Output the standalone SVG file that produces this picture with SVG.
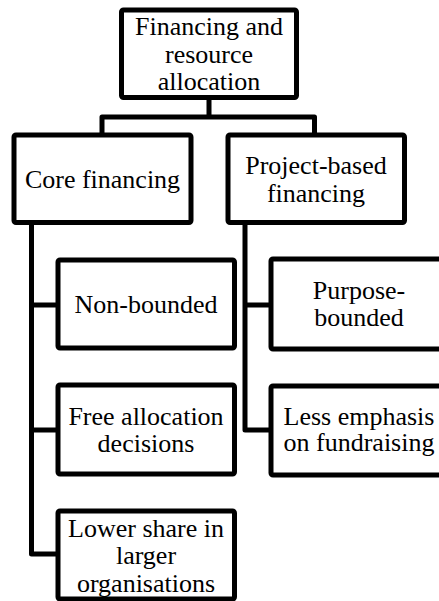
<svg xmlns="http://www.w3.org/2000/svg" width="439" height="601" viewBox="0 0 439 601">
<style>
.box{fill:#fff;stroke:#000;stroke-width:5;stroke-linejoin:round}
.conn{fill:none;stroke:#000;stroke-width:5;stroke-linejoin:round}
text{font-family:"Times New Roman","Liberation Serif","Nimbus Roman","DejaVu Serif",serif;font-size:26px;fill:#000;text-anchor:middle}
</style>
<rect width="439" height="601" fill="#fff"/>
<g id="connectors">
<path class="conn" d="M209,97.5 V117 M102,135 V117 H314.5 V135"/>
<path class="conn" d="M31.5,222.5 V554 H58 M31.5,305 H58 M31.5,430 H58"/>
<path class="conn" d="M245,222.5 V430 H271 M245,305 H271"/>
</g>
<g id="root">
<rect class="box" x="121.5" y="10" width="175" height="87.5" rx="2"/>
<text x="209" y="35">Financing and</text>
<text x="209" y="63">resource</text>
<text x="209" y="90">allocation</text>
</g>
<g id="core">
<rect class="box" x="14" y="135" width="177" height="87.5" rx="2"/>
<text x="102.5" y="188">Core financing</text>
</g>
<g id="project">
<rect class="box" x="228" y="135" width="176.5" height="87.5" rx="2"/>
<text x="316" y="174">Project-based</text>
<text x="316" y="201.5">financing</text>
</g>
<g id="nonbounded">
<rect class="box" x="58" y="260" width="176.5" height="88" rx="2"/>
<text x="146" y="312.5">Non-bounded</text>
</g>
<g id="free">
<rect class="box" x="58" y="385" width="176.5" height="89" rx="2"/>
<text x="146" y="425">Free allocation</text>
<text x="146" y="451.5">decisions</text>
</g>
<g id="lower">
<rect class="box" x="58" y="511" width="176.5" height="88" rx="2"/>
<text x="146" y="536.5">Lower share in</text>
<text x="146" y="564">larger</text>
<text x="146" y="591.5">organisations</text>
</g>
<g id="purpose">
<rect class="box" x="271" y="259" width="177" height="90" rx="2"/>
<text x="359" y="299">Purpose-</text>
<text x="359" y="326">bounded</text>
</g>
<g id="less">
<rect class="box" x="271" y="386" width="177" height="89" rx="2"/>
<text x="359" y="424.5">Less emphasis</text>
<text x="359" y="451">on fundraising</text>
</g>
</svg>
